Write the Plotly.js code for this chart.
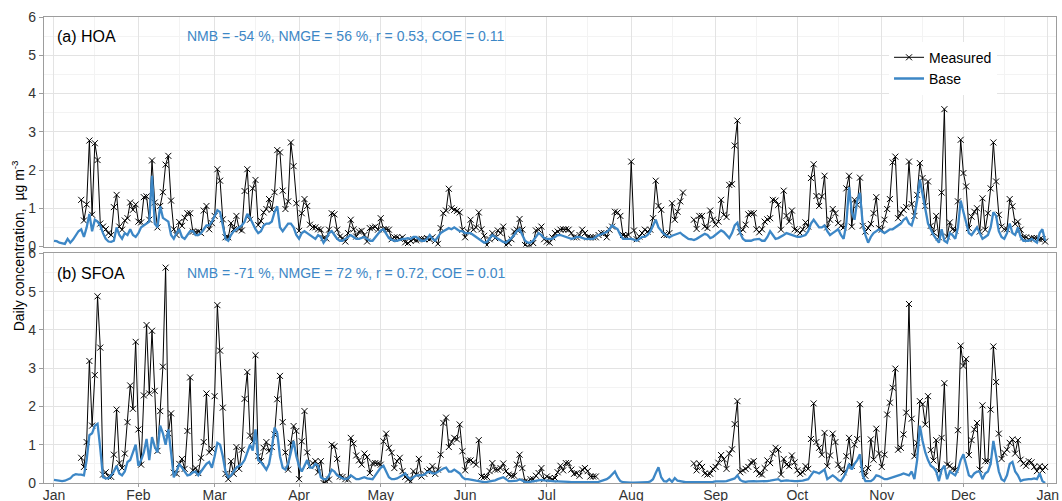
<!DOCTYPE html>
<html><head><meta charset="utf-8">
<script src="https://cdn.plot.ly/plotly-3.0.1.min.js"></script>
<style>html,body{margin:0;padding:0;background:#fff}#chart{width:1062px;height:501px}</style>
</head><body><div id="chart"></div>
<script>
// Daily values, 2013-01-01 .. 2013-12-31 (365 days); null = no measurement
const hoaMeasured = [
null,null,null,null,null,null,null,null,null,null,
1.22,0.68,1.10,2.77,0.83,2.70,2.26,0.60,0.52,0.45,
0.35,0.30,1.03,1.35,0.52,0.44,0.68,0.74,1.15,0.96,
1.10,0.65,0.63,1.29,1.31,0.70,2.25,1.15,0.50,1.06,
1.42,2.14,2.37,1.20,0.45,0.30,0.64,0.54,0.75,0.87,
0.87,0.39,0.38,0.39,0.35,0.94,1.06,0.45,0.61,0.80,
2.02,1.72,0.71,0.24,0.24,0.61,0.45,0.80,0.45,0.42,
1.45,2.02,0.70,1.52,1.74,0.56,0.67,0.89,0.98,1.24,
0.96,1.42,2.52,2.46,1.46,0.98,1.18,2.72,2.10,1.13,
0.41,0.87,1.24,1.06,0.57,0.50,0.50,0.45,0.44,0.22,
0.21,0.44,0.87,0.84,0.44,0.26,0.22,0.13,0.35,0.70,
0.45,0.26,0.39,0.41,0.30,0.13,0.48,0.49,0.52,0.44,
0.74,0.45,0.45,0.44,0.19,0.24,0.24,0.20,0.24,0.11,
0.09,0.15,0.19,0.16,0.19,0.20,0.19,0.22,0.19,0.24,
0.15,0.07,0.48,0.87,0.94,1.51,1.00,0.96,0.93,0.89,
0.44,0.24,0.39,0.70,0.44,0.50,0.89,0.45,0.28,0.04,
0.19,0.35,0.22,0.42,0.35,0.52,0.04,0.09,0.19,0.39,
0.44,0.72,0.44,0.04,0.00,0.02,0.09,0.42,0.44,0.52,
0.19,0.13,0.10,0.24,0.35,0.39,0.44,0.45,0.45,0.44,
0.35,0.24,0.24,0.30,0.44,0.35,0.24,0.24,0.24,0.24,
0.30,0.35,0.35,0.24,0.44,0.52,0.91,0.89,0.80,0.30,
0.28,0.30,2.22,0.42,0.19,0.26,0.35,0.44,0.39,0.44,
0.74,1.72,1.06,0.96,0.30,0.30,0.35,1.13,0.70,0.91,
1.18,1.41,null,null,null,0.70,0.46,0.80,0.80,0.52,
0.48,0.94,0.70,0.57,0.65,1.22,0.83,0.77,1.61,1.63,
2.64,3.29,0.37,0.44,0.57,0.84,0.87,0.87,0.45,0.37,
0.45,0.65,0.71,0.74,1.22,1.20,1.09,0.44,1.46,0.80,
0.65,0.94,0.45,0.42,0.35,0.45,0.63,0.52,1.79,2.15,
1.32,1.06,1.31,1.85,0.50,0.70,0.98,0.87,0.61,0.54,
0.50,1.52,1.85,0.52,1.22,1.09,1.80,0.54,0.39,0.48,
0.59,0.87,1.29,0.48,0.44,0.70,0.98,1.24,2.20,2.35,
0.74,0.87,0.96,1.03,2.22,1.11,0.80,1.35,2.18,1.79,
1.06,1.70,0.54,0.37,0.80,0.24,1.41,3.59,0.26,0.63,
0.45,0.42,1.18,2.79,1.92,1.57,0.48,0.78,0.91,1.00,
0.39,1.26,0.44,0.87,1.52,2.72,1.70,0.83,0.52,0.45,
0.45,1.24,1.05,0.59,0.65,0.44,0.24,0.24,0.19,0.22,
0.22,0.22,0.19,0.19,0.13];

const hoaBase = [
0.15,0.14,0.10,0.09,0.07,0.20,0.10,0.18,0.30,0.40,
0.45,0.25,0.50,0.85,0.40,0.70,0.65,0.55,0.35,0.20,
0.13,0.12,0.15,0.50,0.30,0.20,0.35,0.30,0.45,0.30,
0.25,0.35,0.50,0.55,0.60,0.65,1.85,0.60,0.50,1.05,
0.75,0.70,0.65,0.30,0.20,0.35,0.45,0.25,0.20,0.30,
0.40,0.40,0.30,0.30,0.35,0.45,0.55,0.55,0.65,0.80,
0.95,0.90,0.50,0.20,0.15,0.30,0.40,0.45,0.50,0.55,
0.65,0.85,0.75,0.60,0.45,0.35,0.40,0.55,0.60,0.60,
0.65,0.90,1.05,0.50,0.40,0.50,0.60,0.60,0.50,0.30,
0.20,0.35,0.40,0.35,0.30,0.25,0.20,0.30,0.25,0.10,
0.20,0.35,0.40,0.30,0.20,0.15,0.15,0.20,0.25,0.30,
0.25,0.20,0.20,0.22,0.25,0.20,0.15,0.15,0.25,0.35,
0.42,0.45,0.35,0.22,0.18,0.15,0.15,0.18,0.20,0.20,
0.22,0.20,0.25,0.25,0.20,0.15,0.15,0.20,0.30,0.20,
0.15,0.25,0.35,0.40,0.45,0.48,0.45,0.50,0.45,0.40,
0.40,0.35,0.35,0.35,0.30,0.25,0.20,0.15,0.10,0.12,
0.20,0.30,0.25,0.20,0.15,0.12,0.10,0.15,0.22,0.30,
0.40,0.45,0.30,0.15,0.10,0.10,0.15,0.25,0.35,0.30,
0.22,0.20,0.20,0.20,0.25,0.30,0.30,0.28,0.25,0.22,
0.20,0.22,0.25,0.25,0.22,0.20,0.20,0.20,0.20,0.25,
0.30,0.32,0.35,0.38,0.45,0.55,0.50,0.45,0.30,0.20,
0.20,0.20,0.20,0.18,0.15,0.20,0.25,0.25,0.30,0.39,
0.55,0.70,0.50,0.42,0.33,0.28,0.24,0.28,0.31,0.34,
0.36,0.30,0.24,0.20,0.19,0.17,0.20,0.24,0.30,0.33,
0.30,0.22,0.25,0.31,0.36,0.42,0.38,0.30,0.22,0.35,
0.55,0.62,0.35,0.20,0.15,0.15,0.15,0.18,0.20,0.20,
0.15,0.15,0.25,0.40,0.30,0.20,0.22,0.25,0.30,0.35,
0.32,0.30,0.28,0.25,0.25,0.28,0.30,0.40,0.60,0.70,
0.60,0.50,0.50,0.55,0.40,0.30,0.35,0.40,0.45,0.30,
0.20,0.60,1.55,0.90,0.70,1.20,1.40,0.60,0.30,0.10,
0.25,0.35,0.40,0.45,0.40,0.35,0.40,0.45,0.45,0.50,
0.55,0.60,0.70,0.75,0.60,0.55,0.80,1.20,1.75,1.35,
1.00,0.60,0.45,0.30,0.20,0.10,0.45,0.15,0.10,0.35,
0.30,0.20,0.50,1.20,0.90,0.60,0.35,0.30,0.40,0.50,
0.35,0.20,0.25,0.30,0.50,0.90,0.80,0.40,0.25,0.20,
0.35,0.60,0.35,0.30,0.50,0.25,0.15,0.15,0.15,0.20,
0.15,0.10,0.35,0.45,0.15];

const sfoaMeasured = [
null,null,null,null,null,null,null,null,null,null,
0.66,0.42,1.07,3.19,1.50,2.82,4.88,3.54,0.22,0.28,
0.17,0.16,0.74,1.92,0.52,0.39,0.77,1.59,2.55,1.94,
3.69,1.40,0.48,2.29,4.13,2.34,3.98,2.41,0.84,1.88,
3.04,5.63,1.30,1.82,0.27,0.24,0.50,0.63,0.37,1.36,
2.76,0.33,0.39,0.26,0.66,1.07,2.34,0.80,0.89,2.27,
4.65,3.46,1.97,0.24,0.10,0.57,0.24,0.94,0.37,0.87,
2.20,2.90,1.24,1.09,3.34,0.70,0.57,0.92,1.07,0.83,
0.94,1.27,2.19,2.80,1.59,0.80,0.35,1.05,1.49,1.36,
0.10,1.09,1.88,0.80,0.44,0.52,0.57,0.28,0.57,0.00,
0.04,0.09,1.00,0.96,0.63,0.17,0.16,0.10,0.09,1.18,
1.03,0.72,0.59,0.48,0.77,0.68,0.26,0.52,0.52,0.51,
0.48,1.09,1.29,0.92,0.79,0.39,0.57,0.66,0.31,0.16,
0.09,0.04,0.31,0.22,0.63,0.17,0.24,0.31,0.35,0.44,
0.24,0.35,0.74,1.57,1.71,0.94,1.07,1.18,1.14,1.53,
0.83,0.33,0.59,0.59,0.54,0.48,1.12,0.17,0.16,0.16,
0.31,0.52,0.35,0.35,0.39,0.51,0.31,0.22,0.19,0.19,
0.48,0.74,0.39,0.04,0.04,0.10,0.10,0.19,0.26,0.39,
0.10,0.17,0.13,0.10,0.13,0.28,0.45,0.33,0.52,0.52,
0.35,0.24,0.26,0.19,0.35,0.39,0.31,0.17,0.17,0.17,
null,null,null,null,null,null,null,null,null,null,
null,null,null,null,null,null,null,null,null,null,
null,null,null,null,null,null,null,null,null,null,
null,null,null,null,null,0.51,0.33,0.51,0.42,0.25,
0.22,0.24,0.37,0.42,0.53,0.73,0.62,0.37,0.77,0.88,
1.54,2.14,0.28,0.33,0.37,0.42,0.54,0.57,0.35,0.24,
0.22,0.39,0.59,0.52,0.77,0.92,0.87,0.22,0.63,0.48,
0.44,0.72,0.54,0.33,0.24,0.28,0.44,0.37,1.15,2.08,
1.07,0.92,0.74,1.31,0.44,0.72,1.29,1.07,0.48,0.35,
0.28,0.70,1.18,0.45,1.00,1.15,2.06,0.35,0.19,0.39,
1.14,0.61,1.42,0.77,0.42,0.74,1.79,2.10,2.49,2.99,
0.87,0.92,1.27,1.84,4.68,1.68,0.70,1.05,2.14,2.06,
1.53,2.27,0.86,0.59,1.12,0.31,1.18,2.61,0.48,0.45,
0.37,0.35,1.38,3.59,3.06,3.24,0.73,1.12,1.40,1.57,
0.35,2.03,0.57,0.57,1.92,3.57,2.64,1.29,0.63,0.79,
0.87,1.05,1.14,0.77,1.12,0.61,0.51,0.45,0.57,0.54,
0.42,0.31,0.44,0.33,0.42];

const sfoaBase = [
0.08,0.07,0.05,0.05,0.06,0.10,0.12,0.20,0.23,0.22,
0.22,0.20,0.60,1.25,1.30,1.50,1.55,0.90,0.15,0.12,
0.12,0.20,0.30,0.45,0.25,0.20,0.30,0.55,0.60,0.80,
1.00,0.45,0.60,0.80,1.15,0.60,1.20,0.95,0.80,1.50,
1.30,1.00,1.40,0.80,0.15,0.30,0.50,0.40,0.30,0.20,
0.22,0.28,0.30,0.20,0.30,0.40,0.50,0.55,0.40,0.70,
1.05,1.00,0.70,0.30,0.15,0.20,0.30,0.40,0.45,0.50,
0.60,0.80,1.00,0.85,1.40,0.60,0.55,0.45,0.35,0.50,
0.90,1.45,1.30,0.70,0.40,0.35,0.50,0.80,1.10,0.70,
0.45,0.30,0.45,0.60,0.40,0.40,0.50,0.45,0.15,0.10,
0.10,0.20,0.35,0.30,0.20,0.15,0.12,0.10,0.12,0.20,
0.15,0.10,0.10,0.12,0.15,0.12,0.10,0.10,0.20,0.30,
0.40,0.45,0.30,0.15,0.10,0.10,0.12,0.15,0.20,0.25,
0.15,0.10,0.15,0.20,0.20,0.20,0.22,0.28,0.30,0.25,
0.25,0.30,0.35,0.38,0.40,0.30,0.30,0.35,0.30,0.25,
0.15,0.10,0.10,0.08,0.08,0.06,0.05,0.04,0.02,0.03,
0.04,0.05,0.07,0.10,0.12,0.15,0.10,0.05,0.05,0.05,
0.06,0.10,0.06,0.03,0.02,0.03,0.04,0.05,0.06,0.08,
0.07,0.06,0.05,0.05,0.04,0.04,0.04,0.03,0.03,0.03,
0.02,0.02,0.02,0.02,0.02,0.01,0.01,0.01,0.01,0.02,
0.03,0.05,0.07,0.10,0.15,0.22,0.30,0.15,0.05,0.02,
0.01,0.01,0.01,0.01,0.01,0.01,0.01,0.01,0.02,0.04,
0.10,0.26,0.41,0.15,0.05,0.04,0.10,0.03,0.13,0.06,
0.04,0.03,0.02,0.02,0.02,0.02,0.02,0.02,0.02,0.02,
0.02,0.03,0.03,0.04,0.04,0.03,0.04,0.05,0.07,0.08,
0.12,0.20,0.08,0.04,0.03,0.04,0.05,0.05,0.04,0.04,
0.05,0.05,0.05,0.06,0.07,0.08,0.10,0.05,0.06,0.07,
0.06,0.05,0.05,0.05,0.05,0.06,0.08,0.10,0.20,0.30,
0.28,0.25,0.30,0.35,0.10,0.15,0.20,0.15,0.08,0.05,
0.15,0.30,0.50,0.35,0.50,0.60,0.75,0.20,0.05,0.05,
0.05,0.10,0.20,0.18,0.15,0.10,0.10,0.12,0.15,0.18,
0.20,0.22,0.25,0.22,0.20,0.30,0.10,0.60,1.50,1.10,
0.80,0.60,0.45,0.40,0.30,0.05,0.35,0.45,0.10,0.30,
0.25,0.20,0.35,0.60,0.75,0.50,0.20,0.15,0.25,0.30,
0.30,0.10,0.25,0.30,0.50,1.10,0.70,0.30,0.10,0.05,
0.20,0.50,0.55,0.30,0.20,0.05,0.08,0.10,0.10,0.10,
0.12,0.10,0.25,0.05,0.00];

const panelLabels = ['(a) HOA', '(b) SFOA'];
const statLabels = ['NMB = -54 %, NMGE = 56 %, r = 0.53, COE = 0.11',
                    'NMB = -71 %, NMGE = 72 %, r = 0.72, COE = 0.01'];
const seriesNames = ['Measured', 'Base'];
const yTitle = 'Daily concentration,  µg m<sup>-3</sup>';

function dayDates(n) {
  const out = [];
  for (let i = 0; i < n; i++) {
    const d = new Date(Date.UTC(2013, 0, 1 + i));
    out.push(d.toISOString().slice(0, 10));
  }
  return out;
}
const days = dayDates(hoaBase.length);

const BLUE = '#3d87c6';
const FONT = 'Arial, "Liberation Sans", sans-serif';
const measStyle = {
  mode: 'lines+markers',
  line: {color: '#000', width: 1},
  marker: {symbol: 'x-thin', size: 6, color: '#000', line: {width: 1, color: '#000'}},
  connectgaps: false
};
const baseStyle = {mode: 'lines', line: {color: BLUE, width: 2.3}};

const traces = [
  Object.assign({x: days, y: hoaMeasured, name: seriesNames[0], xaxis: 'x', yaxis: 'y', legendrank: 1}, measStyle),
  Object.assign({x: days, y: hoaBase, name: seriesNames[1], xaxis: 'x', yaxis: 'y', legendrank: 2}, baseStyle),
  Object.assign({x: days, y: sfoaMeasured, name: seriesNames[0], xaxis: 'x2', yaxis: 'y2', showlegend: false}, measStyle),
  Object.assign({x: days, y: sfoaBase, name: seriesNames[1], xaxis: 'x2', yaxis: 'y2', showlegend: false}, baseStyle)
];

const xRange = ['2012-12-28 08:00', '2014-01-04 00:00'];
const gridMajor = '#e3e3e3';
const gridMinor = '#f3f3f3';
const border = '#9d9d9d';

function xAxis(anchor, showLabels) {
  return {
    type: 'date', anchor: anchor, domain: [0, 1], range: xRange,
    tick0: '2013-01-01', dtick: 'M1', tickformat: '%b',
    showticklabels: showLabels, ticks: showLabels ? 'outside' : '', ticklen: 3, tickcolor: border,
    ticklabelstandoff: -4,
    tickfont: {size: 14, color: '#333', family: FONT},
    showgrid: true, gridcolor: gridMajor, gridwidth: 1,
    minor: {tick0: '2013-01-16', dtick: 'M1', showgrid: true, gridcolor: gridMinor, gridwidth: 1},
    showline: true, mirror: true, linecolor: border, linewidth: 1.2,
    zeroline: false, automargin: false, fixedrange: true
  };
}
function yAxis(anchor, domain) {
  return {
    anchor: anchor, domain: domain, range: [0, 6], dtick: 1, tick0: 0,
    ticks: 'outside', ticklen: 4, tickcolor: border,
    tickfont: {size: 14, color: '#333', family: FONT},
    showgrid: true, gridcolor: gridMajor, gridwidth: 1,
    minor: {dtick: 0.5, showgrid: true, gridcolor: gridMinor, gridwidth: 1},
    showline: true, mirror: true, linecolor: border, linewidth: 1.2,
    zeroline: false, automargin: false, fixedrange: true
  };
}

const layout = {
  width: 1062, height: 501,
  margin: {l: 44, r: 6, t: 17, b: 18},
  paper_bgcolor: '#fff', plot_bgcolor: '#fff',
  font: {family: FONT, color: '#000'},
  xaxis: xAxis('y', false),
  yaxis: yAxis('x', [0.5075, 1]),
  xaxis2: Object.assign(xAxis('y2', true), {matches: 'x'}),
  yaxis2: yAxis('x2', [0, 0.4925]),
  showlegend: true,
  legend: {
    x: 0.835, y: 0.947, xanchor: 'left', yanchor: 'top',
    bgcolor: '#fff', borderwidth: 0, font: {size: 14, family: FONT, color: '#000'},
    tracegroupgap: 0, itemwidth: 30
  },
  annotations: [
    {text: panelLabels[0], xref: 'paper', yref: 'paper', x: 0.011, y: 0.959, xanchor: 'left', yanchor: 'middle', showarrow: false, font: {size: 16, color: '#000'}},
    {text: panelLabels[1], xref: 'paper', yref: 'paper', x: 0.011, y: 0.4506, xanchor: 'left', yanchor: 'middle', showarrow: false, font: {size: 16, color: '#000'}},
    {text: statLabels[0], xref: 'paper', yref: 'paper', x: 0.1393, y: 0.959, xanchor: 'left', yanchor: 'middle', showarrow: false, font: {size: 14, color: BLUE}},
    {text: statLabels[1], xref: 'paper', yref: 'paper', x: 0.1393, y: 0.4506, xanchor: 'left', yanchor: 'middle', showarrow: false, font: {size: 14, color: BLUE}},
    {text: yTitle, xref: 'paper', yref: 'paper', x: -0.0257, y: 0.51, xanchor: 'center', yanchor: 'middle', textangle: -90, showarrow: false, font: {size: 14, color: '#000'}}
  ]
};

Plotly.newPlot('chart', traces, layout, {displayModeBar: false, staticPlot: true});
</script>
</body></html>
